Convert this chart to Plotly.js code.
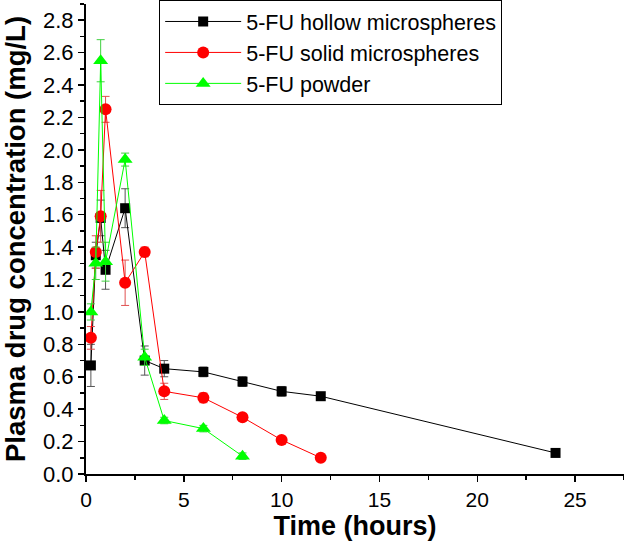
<!DOCTYPE html>
<html>
<head>
<meta charset="utf-8">
<script src="https://cdn.plot.ly/plotly-3.0.1.min.js"></script>
<style>
  html, body { margin: 0; padding: 0; background: #fff; }
  #chart { width: 624px; height: 547px; }
</style>
</head>
<body>
<div id="chart"></div>
<script>
// time points (hours)
const hollowTime = [0.25, 0.5, 0.75, 1, 2, 3, 4, 6, 8, 10, 12, 24];
const solidTime  = [0.25, 0.5, 0.75, 1, 2, 3, 4, 6, 8, 10, 12];
const powderTime = [0.25, 0.5, 0.75, 1, 2, 3, 4, 6, 8];

// plasma concentration (mg/L)
const hollowConc = [0.67, 1.35, 1.58, 1.26, 1.64, 0.70, 0.65, 0.63, 0.57, 0.51, 0.48, 0.13];
const solidConc  = [0.84, 1.37, 1.59, 2.25, 1.18, 1.37, 0.51, 0.47, 0.35, 0.21, 0.10];
const powderConc = [1.00, 1.30, 2.55, 1.31, 1.94, 0.72, 0.33, 0.28, 0.11];

// standard deviations
const hollowSD = [0.13, 0.08, 0.11, 0.12, 0.12, 0.09, 0.05, 0.03, 0.03, 0.03, 0.02, 0.01];
const solidSD  = [0.07, 0.10, 0.16, 0.08, 0.14, 0.03, 0.05, 0.03, 0.02, 0.015, 0.01];
const powderSD = [0.05, 0.10, 0.13, 0.12, 0.04, 0.05, 0.02, 0.02, 0.02];

const seriesNames = ['5-FU hollow microspheres', '5-FU solid microspheres', '5-FU powder'];

const yTicks = [0, 0.2, 0.4, 0.6, 0.8, 1.0, 1.2, 1.4, 1.6, 1.8, 2.0, 2.2, 2.4, 2.6, 2.8];
const xTicks = [0, 5, 10, 15, 20, 25];

const font = 'Liberation Sans, Arial, sans-serif';

function makeTrace(x, y, sd, name, color, barColor, symbol, size) {
    return {
        x: x, y: y, name: name,
        type: 'scatter', mode: 'lines+markers',
        line: { color: color, width: 1 },
        marker: { color: color, symbol: symbol, size: size },
        error_y: { type: 'data', array: sd, visible: true, color: barColor, thickness: 1, width: 4 }
    };
}

const traces = [
    makeTrace(hollowTime, hollowConc, hollowSD, seriesNames[0], '#000000', '#555555', 'square', 10),
    makeTrace(solidTime, solidConc, solidSD, seriesNames[1], '#ff0000', '#e05050', 'circle', 12),
    makeTrace(powderTime, powderConc, powderSD, seriesNames[2], '#00ff00', '#40d040', 'triangle-up', 13)
];

const layout = {
    width: 624, height: 547,
    margin: { l: 86, r: 0, t: 4, b: 73 },
    paper_bgcolor: '#fff', plot_bgcolor: '#fff',
    font: { family: font, color: '#000', size: 20 },
    showlegend: true,
    legend: {
        x: 0.136, y: 1.009, xanchor: 'left', yanchor: 'top',
        bordercolor: '#000', borderwidth: 1, bgcolor: '#fff',
        font: { family: font, size: 21.5, color: '#000' },
        itemwidth: 76,
        tracegroupgap: 0
    },
    xaxis: {
        range: [0, 27.5],
        tickvals: xTicks, ticktext: xTicks.map(String),
        ticks: 'outside', ticklen: 6, tickwidth: 1.5, tickcolor: '#000',
        minor: { dtick: 2.5, ticks: 'outside', ticklen: 4, tickwidth: 1.5, tickcolor: '#000' },
        showline: true, linecolor: '#000', linewidth: 2,
        showgrid: false, zeroline: false,
        tickfont: { family: font, size: 21 },
        title: { text: '<b>Time (hours)</b>', font: { family: font, size: 27 }, standoff: 2 }
    },
    yaxis: {
        range: [0, 2.9],
        tickvals: yTicks, ticktext: yTicks.map(v => v.toFixed(1)),
        ticks: 'outside', ticklen: 6, tickwidth: 1.5, tickcolor: '#000',
        minor: { dtick: 0.1, ticks: 'outside', ticklen: 4, tickwidth: 1.5, tickcolor: '#000' },
        showline: true, linecolor: '#000', linewidth: 2,
        showgrid: false, zeroline: false,
        tickfont: { family: font, size: 22 },
        title: { text: '<b>Plasma drug concentration (mg/L)</b>', font: { family: font, size: 27.5 }, standoff: 10 }
    }
};

Plotly.newPlot('chart', traces, layout, { staticPlot: true, displayModeBar: false });
</script>
</body>
</html>
